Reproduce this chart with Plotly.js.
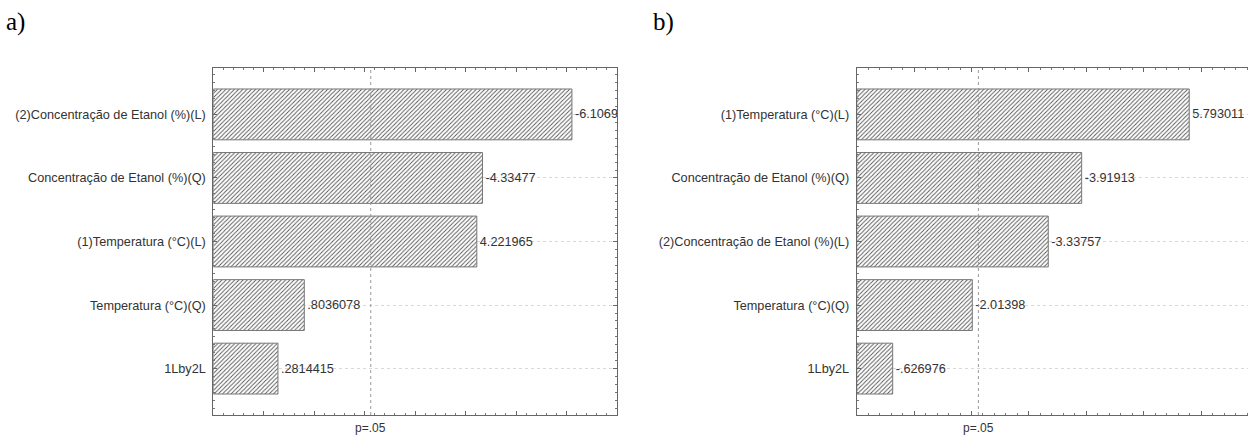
<!DOCTYPE html>
<html>
<head>
<meta charset="utf-8">
<script src="https://cdn.plot.ly/plotly-3.0.1.min.js"></script>
<style>
html,body{margin:0;padding:0;overflow:hidden;background:#fff;width:1248px;height:435px;}
#chart{width:1259px;height:435px;}
</style>
</head>
<body>
<div id="chart"></div>
<script>
// Panel a)
var catsA = ["(2)Concentração de Etanol (%)(L)", "Concentração de Etanol (%)(Q)", "(1)Temperatura (°C)(L)", "Temperatura (°C)(Q)", "1Lby2L"];
var effectsA = [-6.1069, -4.33477, 4.221965, 0.8036078, 0.2814415];
var labelsA = ["-6.1069", "-4.33477", "4.221965", ".8036078", ".2814415"];
var rangeA = [-1, 7];
// Panel b)
var catsB = ["(1)Temperatura (°C)(L)", "Concentração de Etanol (%)(Q)", "(2)Concentração de Etanol (%)(L)", "Temperatura (°C)(Q)", "1Lby2L"];
var effectsB = [5.793011, -3.91913, -3.33757, -2.01398, -0.626976];
var labelsB = ["5.793011", "-3.91913", "-3.33757", "-2.01398", "-.626976"];
var rangeB = [0, 7];
var pCrit = 2.12;
var pLabel = "p=.05";
var panelTitles = ["a)", "b)"];

var W = 1259, H = 435;
var font = {family: "Liberation Sans, Arial, sans-serif", size: 12.7, color: "#333"};

function barTrace(cats, eff, labels, xMin, xa, ya) {
  return {
    type: "bar", orientation: "h",
    base: xMin,
    x: eff.map(function(v){return Math.abs(v) - xMin;}),
    y: cats.map(function(c, i){return i;}),
    text: labels, textposition: "outside", cliponaxis: false,
    textfont: {family: font.family, size: 12.7, color: "#333"},
    width: 0.8,
    xaxis: xa, yaxis: ya,
    marker: {color: "#fff", line: {color: "#777", width: 1},
             pattern: {shape: "/", fgcolor: "#555", bgcolor: "#fff", size: 3, solidity: 0.3}},
    hoverinfo: "skip", showlegend: false
  };
}

function xAxis(domain, range, anchor) {
  return {domain: domain, range: range, anchor: anchor, showgrid: false, zeroline: false,
    showticklabels: false, ticks: "inside", ticklen: 4, tickcolor: "#666", dtick: 1, tick0: 0,
    minor: {dtick: 0.2, ticks: "inside", ticklen: 2, tickcolor: "#777"},
    showline: true, linecolor: "#666", linewidth: 1, mirror: "ticks", fixedrange: true};
}
function yAxis(domain, cats, anchor) {
  return {domain: domain, range: [cats.length - 0.27, -0.73], anchor: anchor,
    tickmode: "array", tickvals: cats.map(function(c,i){return i;}), ticktext: cats,
    ticks: "inside", ticklen: 4, tickcolor: "#666", ticklabelstandoff: 4,
    minor: {dtick: 0.125, tick0: 0, ticks: "inside", ticklen: 2, tickcolor: "#777"},
    showgrid: true, gridcolor: "#d8d8d8", griddash: "dot", gridwidth: 1, zeroline: false,
    showline: true, linecolor: "#666", linewidth: 1, mirror: "ticks", tickfont: font, fixedrange: true};
}

var yDom = [20/H, 367/H];
var data = [barTrace(catsA, effectsA, labelsA, rangeA[0], "x", "y"),
            barTrace(catsB, effectsB, labelsB, rangeB[0], "x2", "y2")];
var layout = {
  width: W, height: H, margin: {l: 0, r: 0, t: 0, b: 0},
  paper_bgcolor: "#fff", plot_bgcolor: "#fff", font: font, showlegend: false,
  xaxis: xAxis([213.3/W, 617/W], rangeA, "y"),
  yaxis: yAxis(yDom, catsA, "x"),
  xaxis2: xAxis([856.7/W, 1258.5/W], rangeB, "y2"),
  yaxis2: yAxis(yDom, catsB, "x2"),
  shapes: [
    {type: "line", xref: "x", yref: "y domain", x0: pCrit, x1: pCrit, y0: 0, y1: 1, layer: "above",
     line: {color: "#999", width: 1, dash: "3px,3px"}},
    {type: "line", xref: "x2", yref: "y2 domain", x0: pCrit, x1: pCrit, y0: 0, y1: 1, layer: "above",
     line: {color: "#999", width: 1, dash: "3px,3px"}}
  ],
  annotations: [
    {xref: "x", yref: "paper", x: pCrit, y: yDom[0], yanchor: "top", xanchor: "center", yshift: -4,
     text: pLabel, showarrow: false, font: {family: font.family, size: 12, color: "#333"}},
    {xref: "x2", yref: "paper", x: pCrit, y: yDom[0], yanchor: "top", xanchor: "center", yshift: -4,
     text: pLabel, showarrow: false, font: {family: font.family, size: 12, color: "#333"}},
    {xref: "paper", yref: "paper", x: 4/W, y: 1 - 6/H, xanchor: "left", yanchor: "top",
     text: panelTitles[0], showarrow: false, font: {family: "Liberation Serif, Times New Roman, serif", size: 25, color: "#000"}},
    {xref: "paper", yref: "paper", x: 651/W, y: 1 - 6/H, xanchor: "left", yanchor: "top",
     text: panelTitles[1], showarrow: false, font: {family: "Liberation Serif, Times New Roman, serif", size: 25, color: "#000"}}
  ]
};
Plotly.newPlot("chart", data, layout, {displayModeBar: false, staticPlot: true});
</script>
</body>
</html>
